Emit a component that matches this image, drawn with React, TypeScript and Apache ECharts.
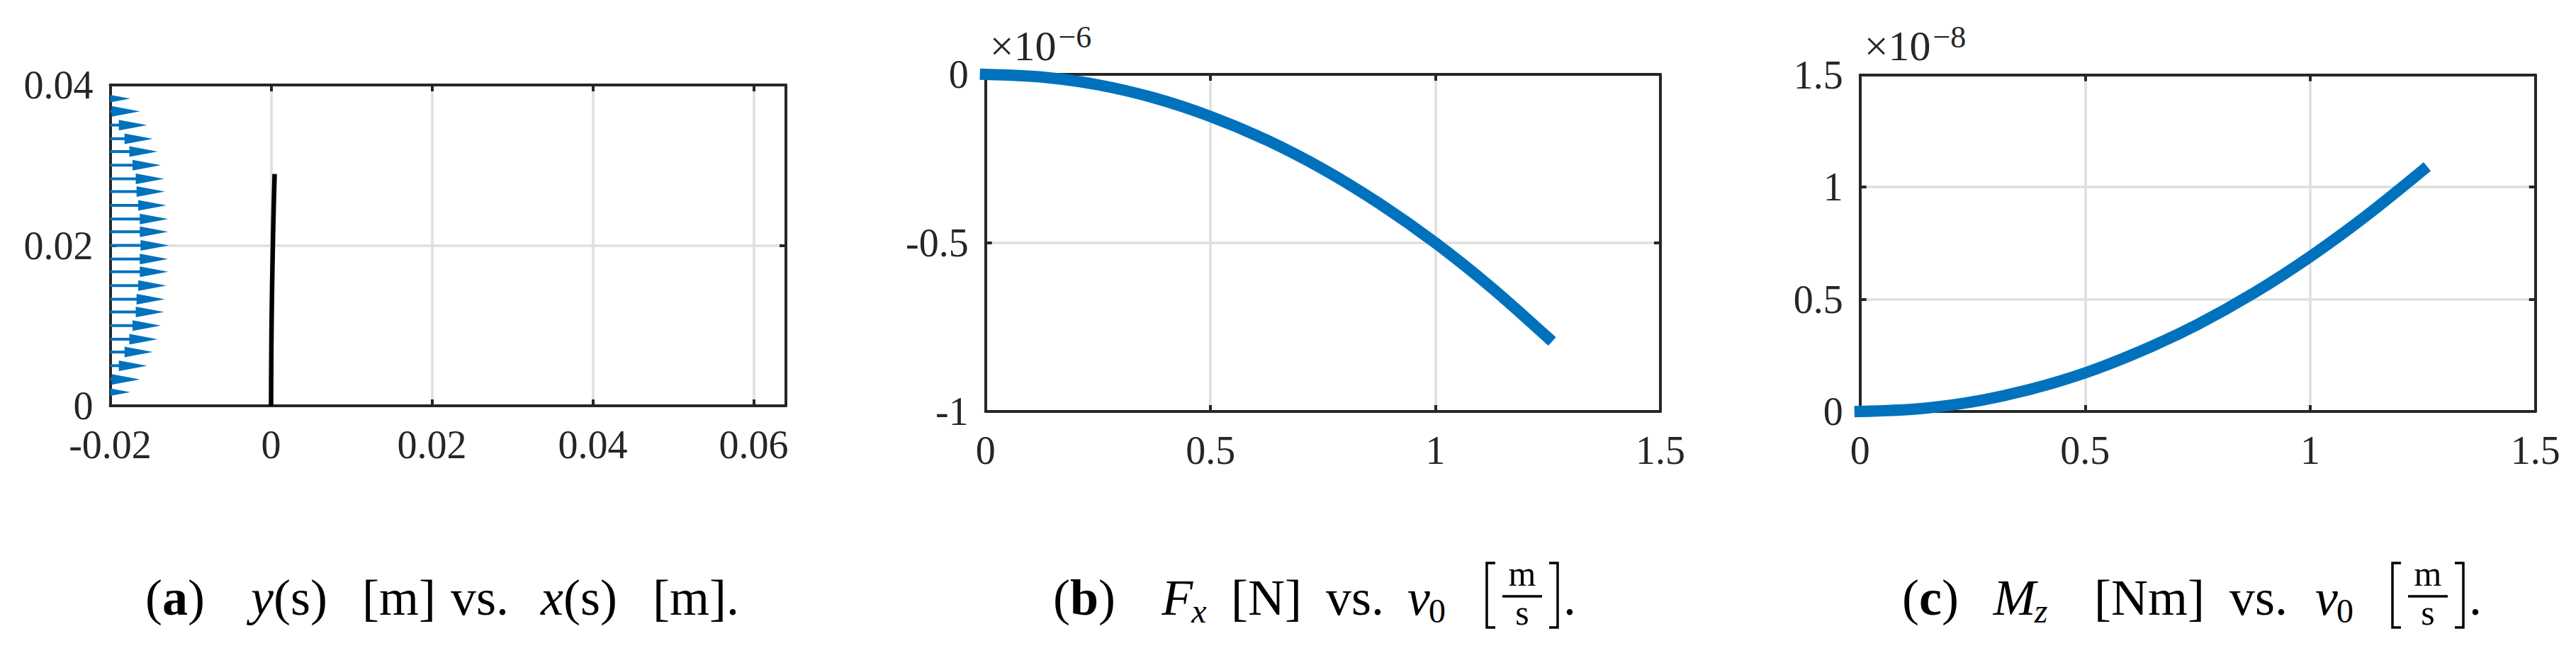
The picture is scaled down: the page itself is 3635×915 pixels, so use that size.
import React, { useEffect, useRef } from "react";
import * as echarts from "echarts";

// ---------- data ----------
// (a) distributed load (quiver) along the beam: heights y [m] and arrow lengths u [m]
const ARROW_X0 = -0.02;
const LOAD_Y = [0.0017, 0.0033, 0.005, 0.0067, 0.0083, 0.01, 0.0117, 0.0133, 0.015, 0.0167, 0.0183, 0.02,
  0.0217, 0.0233, 0.025, 0.0267, 0.0283, 0.03, 0.0317, 0.0333, 0.035, 0.0367, 0.0383];
const LOAD_U = [0.0025, 0.0037, 0.0046, 0.0053, 0.0059, 0.0063, 0.0067, 0.0068, 0.0070, 0.0072, 0.0072, 0.0073,
  0.0072, 0.0072, 0.0070, 0.0068, 0.0067, 0.0063, 0.0059, 0.0053, 0.0046, 0.0037, 0.0025];
// (a) deflected beam x(s), y(s) [m]
const BEAM_X = [0, 0.00002, 0.00006, 0.00013, 0.00022, 0.00033, 0.00044];
const BEAM_Y = [0, 0.005, 0.01, 0.015, 0.02, 0.025, 0.0289];
// (b), (c) speed v0 [m/s]
const V0 = [0, 0.125, 0.25, 0.375, 0.5, 0.625, 0.75, 0.875, 1, 1.125, 1.25];
// (b) Fx [N] in units of 1e-6
const FX_E6 = [0, -0.008, -0.031, -0.07, -0.125, -0.195, -0.281, -0.383, -0.5, -0.633, -0.781];
// (c) Mz [Nm] in units of 1e-8
const MZ_E8 = [0, 0.011, 0.043, 0.097, 0.172, 0.27, 0.388, 0.528, 0.69, 0.873, 1.075];
// axis ranges [min, max, interval]
const A_X = [-0.02, 0.064, 0.02];
const A_Y = [0, 0.04, 0.02];
const B_X = [0, 1.5, 0.5];
const B_Y = [-1, 0, 0.5];
const C_X = [0, 1.5, 0.5];
const C_Y = [0, 1.5, 0.5];
const EXPONENTS = ["\u22126", "\u22128"];

// ---------- style ----------
const FONT = "Liberation Serif";
const INK = "#262626";
const GRID_C = "#dfdfdf";
const BLUE = "#0072BD";
const TICK_FS = 56;
const CAP_FS = 72;
const CAP_BASE = 868;

const PANELS = [
  { left: 155.5, top: 120, width: 953.5, height: 453 },
  { left: 1390.7, top: 105, width: 952.3, height: 476 },
  { left: 2624.7, top: 105.7, width: 953, height: 475.3 },
];

function axesFor(g: number, r: number[], dim: "x" | "y", hideMax: boolean) {
  const base: any = { type: "value", gridIndex: g, min: r[0], max: r[1], interval: r[2] };
  const pos = dim === "x" ? ["bottom", "top"] : ["left", "right"];
  const line = { show: true, onZero: false, lineStyle: { color: INK, width: 4 } };
  const tick = { show: true, inside: true, length: 9, lineStyle: { color: INK, width: 4 } };
  return [
    {
      ...base, z: 0, position: pos[0],
      axisLine: { show: false }, axisTick: { show: false }, axisLabel: { show: false },
      splitLine: { show: true, showMinLine: false, showMaxLine: false, lineStyle: { color: GRID_C, width: 3.5 } },
    },
    {
      ...base, z: 1, position: pos[0], axisLine: line, axisTick: tick,
      axisLabel: {
        show: true, margin: dim === "x" ? 35 : 24, color: INK, fontFamily: FONT, fontSize: TICK_FS,
        lineHeight: 40, padding: dim === "x" ? 0 : [0, 0, 15, 0],
        showMaxLabel: !hideMax, showMinLabel: true,
      },
      splitLine: { show: false },
    },
    {
      ...base, z: 1, position: pos[1], axisLine: line, axisTick: tick,
      axisLabel: { show: false }, splitLine: { show: false },
    },
  ];
}

export default function App() {
  const ref = useRef<HTMLDivElement>(null);
  useEffect(() => {
    if (!ref.current) return;
    const chart = echarts.init(ref.current, null, { renderer: "svg" });

    const ctx = document.createElement("canvas").getContext("2d")!;
    const styleOf = (s: string) => (s === "i" ? "italic" : "normal");
    const weightOf = (s: string) => (s === "b" ? "bold" : "normal");
    const fontStr = (fs: number, st = "normal", wt = "normal") => `${st} ${wt} ${fs}px "${FONT}"`;
    const w = (t: string, fs: number, st = "normal", wt = "normal") => {
      ctx.font = fontStr(fs, st, wt);
      return ctx.measureText(t).width;
    };
    const txt = (x: number, baseline: number, text: string, fs: number, st = "normal", wt = "normal", fill = "#000") => ({
      type: "text", x, y: baseline - 0.3375 * fs, silent: true, z: 10,
      style: { text, font: fontStr(fs, st, wt), fill, align: "left", verticalAlign: "middle" },
    });
    // segment: [text, style('r'|'i'|'b'), sub?]  -> a run centred on cx
    const run = (cx: number, segs: [string, string, boolean?][]) => {
      const SUB = 48;
      const widths = segs.map(([t, s, sub]) => w(t, sub ? SUB : CAP_FS, styleOf(s), weightOf(s)) - (sub ? 2 : 0));
      const total = widths.reduce((a, b) => a + b, 0);
      let x = cx - total / 2;
      const out: any[] = [];
      segs.forEach(([t, s, sub], i) => {
        if (sub) out.push(txt(x - 2, CAP_BASE + 11, t, SUB, styleOf(s), weightOf(s)));
        else out.push(txt(x, CAP_BASE, t, CAP_FS, styleOf(s), weightOf(s)));
        x += widths[i];
      });
      return out;
    };
    const bracket = (x: number, left: boolean) => ({
      type: "polyline", silent: true, z: 10,
      shape: {
        points: left
          ? [[x + 12, 795], [x, 795], [x, 886], [x + 12, 886]]
          : [[x - 12, 795], [x, 795], [x, 886], [x - 12, 886]],
      },
      style: { stroke: "#000", lineWidth: 3.5, fill: null },
    });
    const fraction = (cx: number) => {
      const fs = 50;
      const mw = w("m", fs), sw = w("s", fs);
      return [
        txt(cx - mw / 2, 827, "m", fs),
        { type: "line", silent: true, z: 10, shape: { x1: cx - 28, y1: 842, x2: cx + 28, y2: 842 }, style: { stroke: "#000", lineWidth: 3.5 } },
        txt(cx - sw / 2, 882, "s", fs),
      ];
    };

    const graphics: any[] = [];
    // caption (a)
    graphics.push(...run(247, [["(", "r"], ["a", "b"], [")", "r"]]));
    graphics.push(...run(408, [["y", "i"], ["(s)", "r"]]));
    graphics.push(...run(563, [["[m]", "r"]]));
    graphics.push(...run(677, [["vs.", "r"]]));
    graphics.push(...run(817, [["x", "i"], ["(s)", "r"]]));
    graphics.push(...run(982, [["[m].", "r"]]));
    // caption (b)
    graphics.push(...run(1530, [["(", "r"], ["b", "b"], [")", "r"]]));
    graphics.push(...run(1671, [["F", "i"], ["x", "i", true]]));
    graphics.push(...run(1787, [["[N]", "r"]]));
    graphics.push(...run(1912, [["vs.", "r"]]));
    graphics.push(...run(2013, [["v", "i"], ["0", "r", true]]));
    graphics.push(bracket(2098, true), ...fraction(2148), bracket(2198, false));
    graphics.push(txt(2206, CAP_BASE, ".", CAP_FS));
    // caption (c)
    graphics.push(...run(2724, [["(", "r"], ["c", "b"], [")", "r"]]));
    graphics.push(...run(2851, [["M", "i"], ["z", "i", true]]));
    graphics.push(...run(3033, [["[Nm]", "r"]]));
    graphics.push(...run(3187, [["vs.", "r"]]));
    graphics.push(...run(3294, [["v", "i"], ["0", "r", true]]));
    graphics.push(bracket(3376, true), ...fraction(3426), bracket(3476, false));
    graphics.push(txt(3484, CAP_BASE, ".", CAP_FS));
    // exponent labels (×10^k) of panels (b) and (c)
    [1, 2].forEach((p, k) => {
      const x0 = PANELS[p].left + 6;
      const fs = 60;
      const w1 = w("\u00d710", fs);
      graphics.push(txt(x0, PANELS[p].top - 20, "\u00d710", fs, "normal", "normal", INK));
      graphics.push(txt(x0 + w1 + 3, PANELS[p].top - 38, EXPONENTS[k], 44, "normal", "normal", INK));
    });

    const xAxis = [...axesFor(0, A_X, "x", true), ...axesFor(1, B_X, "x", false), ...axesFor(2, C_X, "x", false)];
    const yAxis = [...axesFor(0, A_Y, "y", false), ...axesFor(1, B_Y, "y", false), ...axesFor(2, C_Y, "y", false)];

    const option: any = {
      animation: false,
      backgroundColor: "#ffffff",
      grid: PANELS.map((p) => ({ ...p, containLabel: false })),
      xAxis,
      yAxis,
      series: [
        {
          type: "custom", xAxisIndex: 1, yAxisIndex: 1, clip: false, z: 3,
          encode: { x: 0, y: 1 },
          data: LOAD_Y.map((y, i) => [ARROW_X0, y, LOAD_U[i]]),
          renderItem: (params: any, api: any) => {
            const x0 = api.value(0), y = api.value(1), u = api.value(2);
            const s = api.coord([x0, y]);
            const e = api.coord([x0 + u, y]);
            const len = e[0] - s[0];
            const hl = Math.min(40, len);
            const hw = 7.5 * hl / 40;
            const children: any[] = [];
            if (len - hl > 0.5) {
              children.push({ type: "line", shape: { x1: s[0], y1: s[1], x2: e[0] - hl + 2, y2: s[1] }, style: { stroke: BLUE, lineWidth: 4 } });
            }
            children.push({ type: "polygon", shape: { points: [[e[0] - hl, s[1] - hw], [e[0], s[1]], [e[0] - hl, s[1] + hw]] }, style: { fill: BLUE } });
            return { type: "group", children };
          },
        },
        {
          type: "line", xAxisIndex: 1, yAxisIndex: 1, z: 3, clip: false,
          data: BEAM_X.map((x, i) => [x, BEAM_Y[i]]),
          showSymbol: false, symbol: "none", smooth: 0.3,
          lineStyle: { color: "#000", width: 6.5 },
        },
        {
          type: "line", xAxisIndex: 4, yAxisIndex: 4, z: 3, clip: false,
          data: V0.map((v, i) => [v, FX_E6[i]]),
          showSymbol: false, symbol: "none", smooth: 0.3,
          lineStyle: { color: BLUE, width: 16, cap: "square" },
        },
        {
          type: "line", xAxisIndex: 7, yAxisIndex: 7, z: 3, clip: false,
          data: V0.map((v, i) => [v, MZ_E8[i]]),
          showSymbol: false, symbol: "none", smooth: 0.3,
          lineStyle: { color: BLUE, width: 16, cap: "square" },
        },
      ],
      graphic: { elements: graphics },
    };
    chart.setOption(option);
    return () => chart.dispose();
  }, []);
  return <div ref={ref} style={{ position: "absolute", left: 0, top: 0, width: 3635, height: 915, background: "#fff" }} />;
}
